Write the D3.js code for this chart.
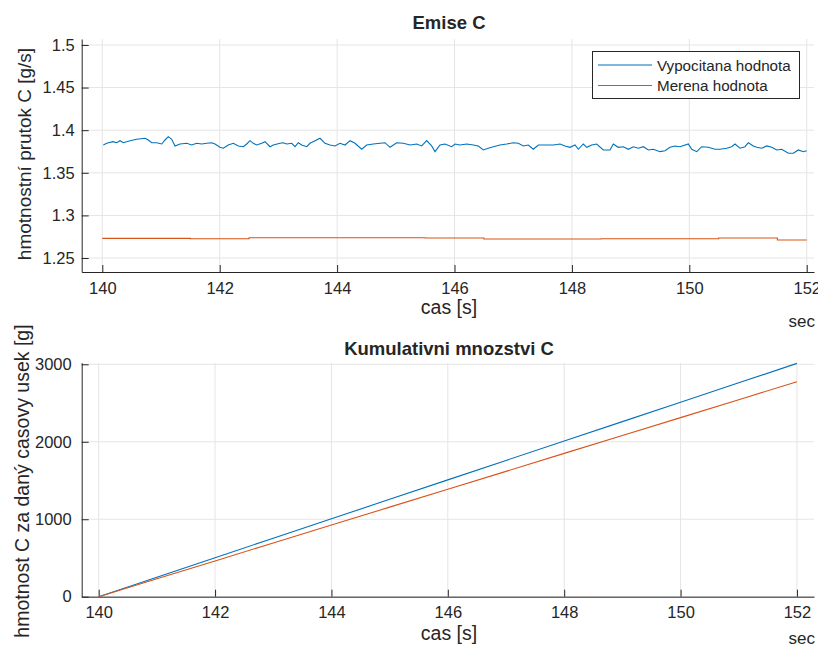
<!DOCTYPE html>
<html><head><meta charset="utf-8">
<script src="https://cdn.jsdelivr.net/npm/d3@7"></script>
<style>
body{margin:0;background:#fff;}
svg text{font-family:"Liberation Sans",Arial,Helvetica,sans-serif;fill:#262626;}
</style></head>
<body><svg id="c" width="818" height="648"></svg>
<script>
// ---- data ----
const xTicks = [140,142,144,146,148,150,152];
const topYTicks = [1.25,1.3,1.35,1.4,1.45,1.5];
const botYTicks = [0,1000,2000,3000];
const seriesNames = ["Vypocitana hodnota","Merena hodnota"];

// calculated flow (blue), time [s]
const blueT = [140.017,140.075,140.182,140.245,140.302,140.358,140.472,140.586,140.727,140.784,140.842,140.927,141.012,141.068,141.124,141.182,141.238,141.324,141.438,141.523,141.608,141.693,141.779,141.864,141.920,142.005,142.061,142.147,142.232,142.317,142.402,142.460,142.516,142.572,142.630,142.716,142.772,142.857,142.913,143.027,143.083,143.141,143.227,143.283,143.339,143.397,143.482,143.538,143.624,143.709,143.794,143.879,143.964,144.049,144.135,144.220,144.305,144.419,144.504,144.617,144.731,144.816,144.901,145.015,145.128,145.242,145.356,145.441,145.526,145.611,145.668,145.753,145.838,145.952,146.009,146.094,146.208,146.320,146.405,146.491,146.576,146.661,146.775,146.889,147.002,147.087,147.172,147.257,147.342,147.428,147.571,147.683,147.797,147.882,147.968,148.053,148.109,148.194,148.252,148.337,148.422,148.535,148.649,148.705,148.790,148.876,148.961,149.046,149.131,149.216,149.302,149.387,149.501,149.586,149.671,149.756,149.841,149.983,150.041,150.126,150.211,150.324,150.438,150.523,150.637,150.722,150.778,150.863,150.949,151.005,151.090,151.148,151.233,151.319,151.404,151.489,151.574,151.687,151.772,151.857,151.942,152.0];
// calculated flow (blue), value [g/s]
const blueV = [1.3826,1.3846,1.3865,1.3853,1.3877,1.3853,1.3877,1.3893,1.3905,1.3885,1.3853,1.3853,1.3838,1.3885,1.3924,1.3893,1.3815,1.3838,1.3846,1.3826,1.3846,1.3838,1.3846,1.3853,1.3838,1.3799,1.3788,1.3826,1.3846,1.3815,1.3806,1.3838,1.3877,1.3846,1.3826,1.3846,1.3865,1.3806,1.3826,1.3846,1.3853,1.3838,1.3846,1.3806,1.3853,1.3826,1.3806,1.3846,1.3877,1.3905,1.3846,1.3826,1.3815,1.3846,1.3826,1.3877,1.3846,1.3776,1.3826,1.3838,1.3846,1.3853,1.3799,1.3853,1.3846,1.3826,1.3838,1.3815,1.3877,1.3815,1.3748,1.3826,1.3838,1.3806,1.3838,1.3826,1.3838,1.3826,1.3815,1.3768,1.3788,1.3806,1.3826,1.3838,1.3853,1.3846,1.3815,1.3826,1.3776,1.3826,1.3826,1.3826,1.3838,1.3815,1.3799,1.3826,1.3776,1.3838,1.3799,1.3826,1.3838,1.3768,1.3768,1.3838,1.3799,1.3806,1.3776,1.3806,1.3788,1.3806,1.3768,1.3776,1.3748,1.3759,1.3799,1.3815,1.3806,1.3838,1.3776,1.3748,1.3806,1.3799,1.3776,1.3776,1.3788,1.3806,1.3838,1.3788,1.3806,1.3853,1.3815,1.3799,1.3788,1.3815,1.3799,1.3768,1.3776,1.3729,1.3729,1.3768,1.3748,1.3759];

// measured flow (orange), step series
const orangeT = [140,141.5,142.5,145.5,146.5,148.5,150.5,151.5,152];
const orangeV = [1.2731,1.2727,1.2738,1.2735,1.2723,1.2727,1.2735,1.2711,1.2711];

// cumulative mass [g]
const cumT = [140,141,142,143,144,145,146,147,148,149,150,151,152];
const cumBlue = [0,252,503,755,1006,1257,1508,1759,2009,2260,2510,2761,3012];
const cumOrange = [0,231,462,694,925,1156,1387,1618,1850,2081,2312,2543,2775];

const colors = ["#0072BD","#D95319"];

const svg = d3.select("#c");
const AX = "#262626", GRID = "#e5e5e5";
const TICKFS = 16.5;

function panel(opt){
  const g = svg.append("g");
  const x = d3.scaleLinear().domain(opt.xd).range(opt.xr);
  const y = d3.scaleLinear().domain(opt.yd).range(opt.yr);
  const [x0,x1] = opt.xr, [y0,y1] = opt.yr;
  g.append("g").selectAll("line").data(xTicks).join("line")
    .attr("x1",d=>x(d)).attr("x2",d=>x(d)).attr("y1",y0).attr("y2",y1)
    .attr("stroke",GRID).attr("stroke-width",1);
  g.append("g").selectAll("line").data(opt.yt).join("line")
    .attr("x1",x0).attr("x2",x1).attr("y1",d=>y(d)).attr("y2",d=>y(d))
    .attr("stroke",GRID).attr("stroke-width",1);
  const xa = d3.axisBottom(x).tickValues(xTicks).tickSize(-7).tickSizeOuter(0).tickPadding(10).tickFormat(d3.format("d"));
  const gx = g.append("g").attr("transform",`translate(0,${y0})`).call(xa);
  const ya = d3.axisLeft(y).tickValues(opt.yt).tickSize(-7).tickSizeOuter(0).tickPadding(opt.ypad).tickFormat(opt.yf);
  const gy = g.append("g").attr("transform",`translate(${x0},0)`).call(ya);
  [gx,gy].forEach(a=>{
    a.select(".domain").attr("stroke",AX).attr("stroke-width",1);
    a.selectAll(".tick line").attr("stroke",AX);
    a.selectAll(".tick text").attr("font-size",TICKFS).attr("fill",AX)
      .style("font-family",'"Liberation Sans",Arial,sans-serif');
  });
  gx.selectAll(".tick text").attr("dy","0.71em");
  opt.series.forEach((s,i)=>{
    const pts = s.t.map((t,j)=>[t,s.v[j]]);
    g.append("path").datum(pts)
      .attr("fill","none").attr("stroke",colors[i]).attr("stroke-width",1.1)
      .attr("d",d3.line().x(d=>x(d[0])).y(d=>y(d[1])).curve(s.curve||d3.curveLinear));
  });
  g.append("text").attr("x",449).attr("y",opt.titleY).attr("text-anchor","middle")
    .attr("font-size",18.5).attr("font-weight","bold").text(opt.title);
  g.append("text").attr("x",449).attr("y",opt.xlabY).attr("text-anchor","middle")
    .attr("font-size",19.5).text("cas [s]");
  g.append("text").attr("x",815).attr("y",opt.secY).attr("text-anchor","end")
    .attr("font-size",17).text("sec");
  g.append("text").attr("transform",`translate(${opt.ylabX},${opt.ylabY}) rotate(-90)`)
    .attr("text-anchor","middle").attr("font-size",opt.ylabFs).text(opt.ylab);
  return {g,x,y};
}

panel({
  xd:[139.649,152.124], xr:[81.7,814],
  yd:[1.2336,1.507], yr:[272,39],
  yt:topYTicks, yf:d=>d3.format("")(+d.toFixed(2)), ypad:7,
  series:[{t:blueT,v:blueV},{t:orangeT,v:orangeV,curve:d3.curveStepAfter}],
  title:"Emise C", titleY:28.5, xlabY:314, secY:327, ylabX:31, ylabY:154, ylabFs:19,
  ylab:"hmotnostní prutok C [g/s]"
});

panel({
  xd:[139.708,152.293], xr:[81.7,814],
  yd:[0,3020.7], yr:[596.7,362.7],
  yt:botYTicks, yf:d3.format("d"), ypad:10,
  series:[{t:cumT,v:cumBlue},{t:cumT,v:cumOrange}],
  title:"Kumulativni mnozstvi C", titleY:354.5, xlabY:640, secY:644, ylabX:29, ylabY:481, ylabFs:19.5,
  ylab:"hmotnost C za daný casovy usek [g]"
});

const lg = svg.append("g");
lg.append("rect").attr("x",592.5).attr("y",51.5).attr("width",207).attr("height",47)
  .attr("fill","#fff").attr("stroke",AX).attr("stroke-width",1);
seriesNames.forEach((n,i)=>{
  const yy = 65 + i*20.5;
  lg.append("line").attr("x1",598).attr("x2",652).attr("y1",yy).attr("y2",yy)
    .attr("stroke",colors[i]).attr("stroke-width",1.1);
  lg.append("text").attr("x",657).attr("y",yy+5.5).attr("font-size",15.2).text(n);
});
</script></body></html>
